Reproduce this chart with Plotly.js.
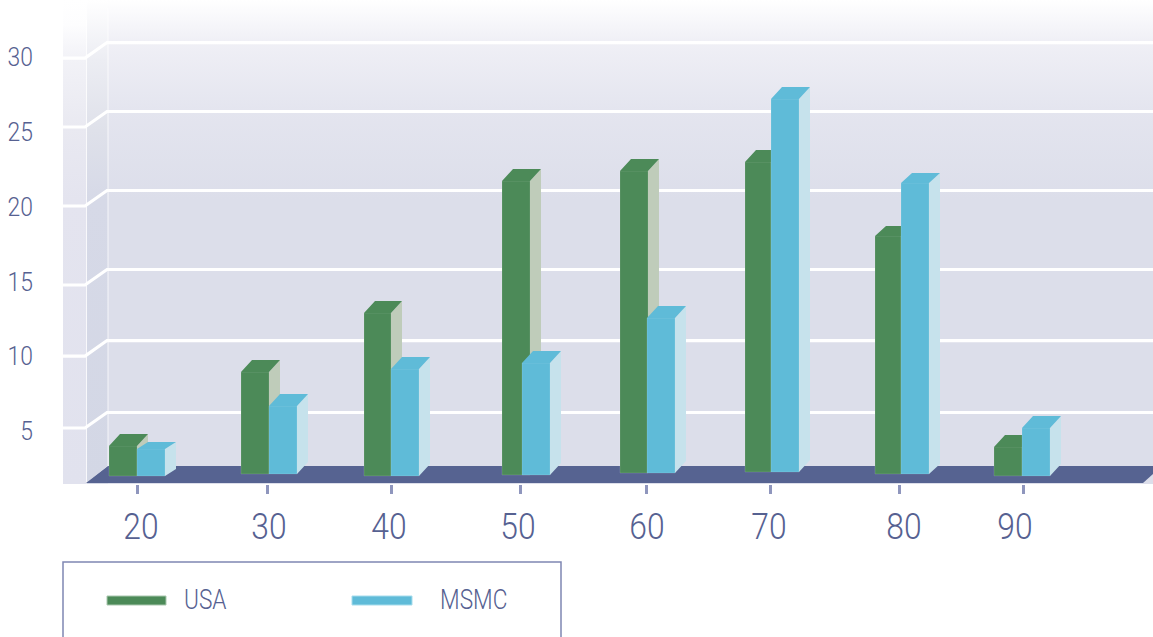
<!DOCTYPE html>
<html>
<head>
<meta charset="utf-8">
<script src="https://cdn.plot.ly/plotly-3.0.1.min.js"></script>
<style>html,body{margin:0;padding:0;background:#fff;overflow:hidden}#chart{width:1153px;height:637px}</style>
</head>
<body>
<div id="chart"></div>
<script>
// Series
const categories = ['20', '30', '40', '50', '60', '70', '80', '90'];
const usaValues  = [4.0, 8.94, 12.89, 21.71, 22.38, 22.98, 18.03, 3.93];
const msmcValues = [3.8, 6.67, 9.14, 9.55, 12.55, 27.19, 21.58, 5.2];
const yTicks = [5, 10, 15, 20, 25, 30];

// Level each pair of columns stands on, and where the wall rulings really sit
const plinthLevels = [1.99, 2.13, 2.0, 2.06, 2.19, 2.26, 2.13, 2.0];
const rulingLevels = [5.2, 10.01, 14.76, 20.04, 25.32, 29.93];

// Horizontal placement along the axis
const tickSlots  = [137, 267, 391, 520, 646, 770, 899, 1023];
const labelSlots = [141, 269, 389, 518, 647, 769, 904, 1015];
const usaEdges   = [[109, 137], [241, 269], [364, 391], [502, 530], [620, 648], [745, 771], [875, 901], [994, 1022]];
const msmcEdges  = [[137, 165], [269, 297], [391, 419], [522, 550], [647, 675], [771, 799], [901, 929], [1022, 1050]];

// Extrusion of each column: sideways reach and upward rise in pixels
const depthX = 11;
const usaRise  = [12, 12, 12, 12, 12, 12, 10, 12];
const msmcRise = [7, 12, 12, 12, 12, 12, 10, 12];

// Frame geometry (the x axis runs in page pixels, the plot ends at y = 484)
const plotLeft = 63, plotRight = 1153, plotBottom = 484;
const pxPerUnit = 14.96;
const unitsFromPx = p => p / pxPerUnit;
const levelAt = p => 5 + (431 - p) / pxPerUnit;

const ink = '#566191';
const face = 'Roboto, "Liberation Sans", sans-serif';
const lightFont = (size) => ({family: face, size, color: ink, weight: 300});

function panel(x, stops) {
  const top = levelAt(0), bottom = levelAt(plotBottom);
  return {
    type: 'scatter', mode: 'lines', hoverinfo: 'skip', showlegend: false,
    x: [x[0], x[1], x[1], x[0], x[0]],
    y: [bottom, bottom, top, top, bottom],
    line: {width: 0}, fill: 'toself',
    fillgradient: {
      type: 'vertical',
      start: bottom, stop: top,
      colorscale: stops.map(s => [(plotBottom - s[0]) / plotBottom, s[1]]).reverse()
    }
  };
}

// Back wall, side wall and the narrow front strip, all fading to white at the top
const walls = [
  panel([108, plotRight], [[0, '#ffffff'], [40, '#f0f0f6'], [110, '#e4e5ef'], [200, '#dcdeea'], [484, '#dcdeea']]),
  panel([87, 108], [[0, '#ffffff'], [60, '#ecedf3'], [130, '#dfe1ea'], [200, '#d6d9e7'], [484, '#d3d7e5']]),
  panel([63, 87], [[0, '#ffffff'], [25, '#fdfdfe'], [58, '#f2f2f7'], [127, '#e9e9f1'], [200, '#e4e4ef'], [484, '#e1e2ee']])
];

const separators = {
  type: 'scatter', mode: 'lines', hoverinfo: 'skip', showlegend: false,
  x: [86.5, 86.5, null, 108, 108, null, 86.5, 108],
  y: [levelAt(483), levelAt(20), null, levelAt(466), levelAt(8), null, levelAt(483), levelAt(466)],
  line: {color: 'rgba(255,255,255,0.75)', width: 1}
};

const floor = {
  type: 'scatter', mode: 'lines', hoverinfo: 'skip', showlegend: false,
  x: [86, 108, 1153, 1153, 1143, 86],
  y: [483, 466, 466, 474, 483, 483].map(levelAt),
  line: {width: 0}, fill: 'toself', fillcolor: '#566391'
};

// Each ruling runs across the front strip, up the side wall, then along the back
const rulingX = [], rulingY = [];
rulingLevels.forEach(v => {
  const rise = unitsFromPx(15.5);
  rulingX.push(plotLeft, 85, 107, plotRight, null);
  rulingY.push(v, v, v + rise, v + rise, null);
});
const rulings = {
  type: 'scatter', mode: 'lines', hoverinfo: 'skip', showlegend: false,
  x: rulingX, y: rulingY,
  line: {color: '#ffffff', width: 3.2}
};

// Front faces are real bars; top and side faces are extruded from the same values
function columnTraces(name, values, edges, rise, front, side, axisSuffix) {
  const sideX = [], sideY = [], topX = [], topY = [];
  values.forEach((v, i) => {
    const [l, r] = edges[i];
    const up = unitsFromPx(rise[i]);
    const base = plinthLevels[i];
    sideX.push(r, r + depthX, r + depthX, r, r, null);
    sideY.push(v, v + up, base + up, base, v, null);
    topX.push(l, l + depthX, r + depthX, r, l, null);
    topY.push(v, v + up, v + up, v, v, null);
  });
  const refs = {xaxis: 'x' + axisSuffix, yaxis: 'y' + axisSuffix};
  const facet = (x, y, color) => Object.assign({
    type: 'scatter', mode: 'lines', hoverinfo: 'skip', showlegend: false,
    x, y, fill: 'toself', fillcolor: color, line: {width: 0}
  }, refs);
  return [
    facet(sideX, sideY, side),
    facet(topX, topY, front),
    Object.assign({
      type: 'bar', name,
      x: edges.map(e => (e[0] + e[1]) / 2),
      width: edges.map(e => e[1] - e[0]),
      y: values.map((v, i) => v - plinthLevels[i]),
      base: plinthLevels,
      marker: {color: front, line: {color: 'rgba(255,255,255,0.12)', width: 1}},
      hoverinfo: 'skip', showlegend: false
    }, refs)
  ];
}

const green = '#4c8a58', greenSide = '#bfccba';
const blue = '#5fbbd8', blueSide = '#c6e2ec';

const traces = [
  ...walls, separators, floor, rulings,
  ...columnTraces('USA', usaValues, usaEdges, usaRise, green, greenSide, '2'),
  ...columnTraces('MSMC', msmcValues, msmcEdges, msmcRise, blue, blueSide, '3')
];

const xRange = [plotLeft, plotRight];
const yRange = [levelAt(plotBottom), levelAt(0)];

// Page pixels to paper coordinates, for the key below the plot
const paperX = p => (p - plotLeft) / (plotRight - plotLeft);
const paperY = p => (plotBottom - p) / plotBottom;
const paperRect = (x0, x1, y0, y1) => ({
  type: 'rect', xref: 'paper', yref: 'paper',
  x0: paperX(x0), x1: paperX(x1), y0: paperY(y0), y1: paperY(y1)
});

const layout = {
  width: 1153, height: 637,
  margin: {l: plotLeft, r: 0, t: 0, b: 637 - plotBottom, pad: 0},
  paper_bgcolor: '#ffffff', plot_bgcolor: '#ffffff',
  barmode: 'overlay', hovermode: false, showlegend: false,
  font: {family: face, color: ink},
  xaxis: {
    range: xRange, showgrid: false, zeroline: false, showline: false,
    tickmode: 'array', tickvals: tickSlots, ticktext: categories.map(() => ''),
    ticks: 'outside', ticklen: 9, tickwidth: 3, tickcolor: '#8f96bd'
  },
  yaxis: {
    range: yRange, showgrid: false, zeroline: false, showline: false,
    tickmode: 'array', tickvals: yTicks, ticktext: yTicks.map(String),
    ticks: '', ticklabelstandoff: 29,
    tickfont: lightFont(26)
  },
  xaxis2: {
    overlaying: 'x', anchor: 'y2', range: xRange,
    showgrid: false, zeroline: false, showline: false, ticks: '',
    tickmode: 'array', tickvals: labelSlots, ticktext: categories,
    ticklabelstandoff: 17,
    tickfont: lightFont(37)
  },
  yaxis2: {overlaying: 'y', anchor: 'x2', range: yRange, visible: false},
  xaxis3: {overlaying: 'x', anchor: 'y3', range: xRange, visible: false},
  yaxis3: {overlaying: 'y', anchor: 'x3', range: yRange, visible: false},
  shapes: [
    Object.assign(paperRect(63, 561, 562, 700), {line: {color: '#7f87b3', width: 1.5}, fillcolor: 'rgba(0,0,0,0)'}),
    Object.assign(paperRect(107, 166, 596, 605), {line: {color: '#a9c7ae', width: 1}, fillcolor: green}),
    Object.assign(paperRect(352, 412, 596, 605), {line: {color: '#a6dcec', width: 1}, fillcolor: blue})
  ],
  annotations: [
    {text: 'USA', x: paperX(182), y: paperY(600)},
    {text: 'MSMC', x: paperX(438), y: paperY(600)}
  ].map(a => Object.assign(a, {
    xref: 'paper', yref: 'paper', xanchor: 'left', yanchor: 'middle',
    showarrow: false, font: lightFont(27)
  }))
};

// The typeface is set condensed: squeeze each label about its anchored edge
function condense(selector, ratio, anchorAt) {
  document.querySelectorAll(selector).forEach(node => {
    const box = node.getBBox();
    const ax = box.x + box.width * anchorAt;
    const prior = node.getAttribute('transform') || '';
    node.setAttribute('transform', `${prior} translate(${ax},0) scale(${ratio},1) translate(${-ax},0)`);
  });
}

Plotly.newPlot('chart', traces, layout, {displayModeBar: false, staticPlot: true}).then(() => {
  condense('.x2tick text', 0.86, 0.5);
  condense('.ytick text', 0.88, 1);
  condense('.annotation-text', 0.84, 0);
});
</script>
</body>
</html>
